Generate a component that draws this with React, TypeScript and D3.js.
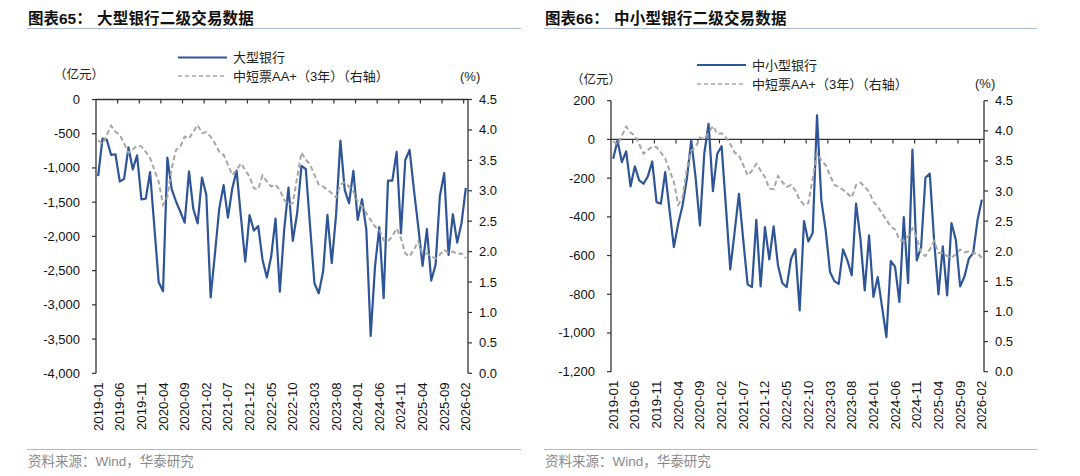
import React from "react";
import * as d3 from "d3";

// ---------- DATA ----------
const months: string[] = d3
  .timeMonth.range(new Date(2019, 0, 1), new Date(2026, 2, 1))
  .map((d) => d3.timeFormat("%Y-%m")(d));

const largeBanks: number[] = [
  -1120, -570, -590, -810, -800, -1200, -1160, -700, -1020, -815,
  -1460, -1450, -1060, -1870, -2670, -2800, -850, -1310, -1490, -1640,
  -1800, -1050, -1600, -1810, -1140, -1390, -2890, -2250, -1590, -1250,
  -1725, -1300, -1040, -1710, -2370, -1690, -1915, -1850, -2340, -2600,
  -2295, -1740, -2806, -1905, -1288, -2066, -1662, -971, -1015, -1857,
  -2684, -2830, -2514, -1686, -2392, -1686, -601, -1321, -1516, -1044,
  -1759, -1457, -1905, -3453, -2441, -1866, -2902, -1185, -1185, -766,
  -1953, -883, -737, -1321, -1857, -2431, -1895, -2645, -2416, -1409,
  -1075, -2270, -1676, -2090, -1808, -1292,
];

const smallBanks: number[] = [
  -100, -5, -117, -62, -243, -139, -212, -229, -191, -114,
  -324, -332, -169, -367, -556, -436, -341, -203, -5, -195,
  -444, -74, 81, -267, -74, -35, -350, -671, -479, -281,
  -522, -749, -763, -415, -759, -453, -620, -449, -651, -742,
  -763, -618, -567, -883, -422, -527, -484, 124, -315, -470,
  -685, -732, -746, -568, -625, -702, -332, -513, -780, -496,
  -814, -711, -866, -1021, -628, -659, -840, -401, -742, -53,
  -625, -556, -198, -177, -522, -801, -553, -806, -432, -518,
  -759, -708, -616, -587, -418, -311,
];

const aaPlusYield: number[] = [
  3.83, 3.77, 3.92, 4.07, 3.97, 3.92, 3.78, 3.62, 3.68, 3.74,
  3.73, 3.64, 3.54, 3.34, 3.15, 2.77, 2.9, 3.37, 3.67, 3.73,
  3.89, 3.86, 3.97, 4.08, 3.95, 3.96, 3.89, 3.78, 3.64, 3.59,
  3.43, 3.26, 3.34, 3.45, 3.34, 3.23, 3.04, 3.03, 3.25, 3.15,
  3.07, 3.1, 3.01, 2.85, 2.77, 2.8, 3.21, 3.63, 3.51, 3.43,
  3.26, 3.1, 3.07, 3.02, 2.96, 2.89, 3.1, 3.14, 3.07, 2.99,
  2.82, 2.74, 2.63, 2.52, 2.41, 2.36, 2.19, 2.17, 2.25, 2.38,
  2.22, 1.97, 1.92, 2.03, 2.17, 1.97, 1.97, 1.92, 1.89, 1.95,
  2.03, 1.98, 2.0, 1.96, 1.97, 1.89,
];

const leftTicks1: number[] = [0, -500, -1000, -1500, -2000, -2500, -3000, -3500, -4000];
const leftTicks2: number[] = [200, 0, -200, -400, -600, -800, -1000, -1200];
const rightTicks: number[] = [4.5, 4.0, 3.5, 3.0, 2.5, 2.0, 1.5, 1.0, 0.5, 0.0];

const BLUE = "#2E5597";
const GREY = "#A6A6A6";
const AXIS = "#333333";
const RULE = "#A9BBD9";
const FONT = "'Liberation Sans', Arial, 'Noto Sans CJK SC', sans-serif";

const fmtLeft = d3
  .formatLocale({ decimal: ".", thousands: ",", grouping: [3], currency: ["", ""], minus: "-" })
  .format(",");
const fmtRight = d3.format(".1f");

type PanelProps = {
  left: number;
  right: number;
  x0: number;
  x1: number;
  yTop: number;
  yBot: number;
  leftDomain: [number, number];
  leftTicks: number[];
  series: number[];
  titleNo: string;
  titleText: string;
  titleTextX: number;
  legendName: string;
  legendX: number;
  legendY1: number;
  legendY2: number;
  unitLX: number;
  unitLY: number;
  unitRX: number;
  unitRY: number;
};

function Panel(p: PanelProps) {
  const x = d3.scaleBand<number>().domain(d3.range(months.length)).range([p.x0, p.x1]).paddingInner(0).paddingOuter(0);
  const bw = x.bandwidth();
  const cx = (i: number) => (x(i) as number) + bw / 2;
  const yL = d3.scaleLinear().domain(p.leftDomain).range([p.yBot, p.yTop]);
  const yR = d3.scaleLinear().domain([0, 4.5]).range([p.yBot, p.yTop]);
  const lineL = d3.line<number>().x((_, i) => cx(i)).y((d) => yL(d));
  const lineR = d3.line<number>().x((_, i) => cx(i)).y((d) => yR(d));
  const y0 = yL(0);
  const tickIdx = d3.range(0, months.length, 5);
  const boundaryTicks = d3.range(0, months.length + 1, 5).filter((k) => k > 0 && k < months.length);

  return (
    <g>
      {/* title */}
      <text x={p.left} y={18} dominantBaseline="central" fontFamily={FONT} fontWeight="bold" fontSize={15.5} fill="#111">
        {p.titleNo}
      </text>
      <text x={p.titleTextX} y={18} dominantBaseline="central" fontFamily={FONT} fontWeight="bold" fontSize={15.5} fill="#111" letterSpacing={0.2}>
        {p.titleText}
      </text>
      <line x1={p.left - 1} x2={p.right} y1={28.5} y2={28.5} stroke={RULE} strokeWidth={1.2} />

      {/* legend */}
      <line x1={p.legendX} x2={p.legendX + 49} y1={p.legendY1} y2={p.legendY1} stroke={BLUE} strokeWidth={2.2} />
      <text x={p.legendX + 55} y={p.legendY1} dominantBaseline="central" fontFamily={FONT} fontSize={13} fill="#222">
        {p.legendName}
      </text>
      <line x1={p.legendX} x2={p.legendX + 49} y1={p.legendY2} y2={p.legendY2} stroke={GREY} strokeWidth={1.6} strokeDasharray="4 3" />
      <text x={p.legendX + 55} y={p.legendY2} dominantBaseline="central" fontFamily={FONT} fontSize={13} fill="#222">
        中短票AA+（3年）（右轴）
      </text>

      {/* units */}
      <text x={p.unitLX} y={p.unitLY} dominantBaseline="central" fontFamily={FONT} fontSize={12.5} fill="#222">
        （亿元）
      </text>
      <text x={p.unitRX} y={p.unitRY} dominantBaseline="central" fontFamily={FONT} fontSize={13} fill="#222">
        (%)
      </text>

      {/* left axis */}
      <line x1={p.x0} x2={p.x0} y1={p.yTop} y2={p.yBot} stroke={AXIS} strokeWidth={1.3} />
      {p.leftTicks.map((t) => (
        <g key={"l" + t}>
          <line x1={p.x0 - 4} x2={p.x0} y1={yL(t)} y2={yL(t)} stroke={AXIS} strokeWidth={1.2} />
          <text x={p.x0 - 16} y={yL(t)} textAnchor="end" dominantBaseline="central" fontFamily={FONT} fontSize={13} fill="#111">
            {fmtLeft(t)}
          </text>
        </g>
      ))}

      {/* right axis */}
      <line x1={p.x1} x2={p.x1} y1={p.yTop} y2={p.yBot} stroke={AXIS} strokeWidth={1.3} />
      {rightTicks.map((t) => (
        <g key={"r" + t}>
          <line x1={p.x1} x2={p.x1 + 4} y1={yR(t)} y2={yR(t)} stroke={AXIS} strokeWidth={1.2} />
          <text x={p.x1 + 11} y={yR(t)} dominantBaseline="central" fontFamily={FONT} fontSize={13} fill="#111">
            {fmtRight(t)}
          </text>
        </g>
      ))}

      {/* category axis at zero */}
      <line x1={p.x0} x2={p.x1} y1={y0} y2={y0} stroke={AXIS} strokeWidth={1.3} />
      {boundaryTicks.map((k) => (
        <line key={"b" + k} x1={p.x0 + k * bw} x2={p.x0 + k * bw} y1={y0} y2={y0 + 4} stroke={AXIS} strokeWidth={1.2} />
      ))}
      {tickIdx.map((i) => (
        <text
          key={"x" + i}
          transform={`translate(${cx(i)},${p.yBot + 9}) rotate(-90)`}
          textAnchor="end"
          dominantBaseline="central"
          fontFamily={FONT}
          fontSize={13.3}
          fill="#111"
        >
          {months[i]}
        </text>
      ))}

      {/* series */}
      <path d={lineL(p.series) as string} fill="none" stroke={BLUE} strokeWidth={2.2} strokeLinejoin="round" />
      <path d={lineR(aaPlusYield) as string} fill="none" stroke={GREY} strokeWidth={2} strokeDasharray="5 3" />

      {/* source */}
      <line x1={p.left - 1} x2={p.right} y1={449.5} y2={449.5} stroke={RULE} strokeWidth={1.2} />
      <text x={p.left} y={461} dominantBaseline="central" fontFamily={FONT} fontSize={13.5} fill="#8a8a8a">
        资料来源：Wind，华泰研究
      </text>
    </g>
  );
}

export default function App() {
  return (
    <div style={{ position: "absolute", left: 0, top: 0, width: 1080, height: 476, background: "#fff" }}>
      <svg width={1080} height={476} viewBox="0 0 1080 476" style={{ display: "block" }}>
        <rect width={1080} height={476} fill="#fff" />
        <Panel
          left={28}
          right={521}
          x0={96}
          x1={468}
          yTop={99.5}
          yBot={373.3}
          leftDomain={[-4000, 0]}
          leftTicks={leftTicks1}
          series={largeBanks}
          titleNo="图表65："
          titleText="大型银行二级交易数据"
          titleTextX={97}
          legendName="大型银行"
          legendX={178}
          legendY1={57.5}
          legendY2={76}
          unitLX={54}
          unitLY={74.5}
          unitRX={460}
          unitRY={76}
        />
        <Panel
          left={545}
          right={1037}
          x0={611}
          x1={984}
          yTop={100.7}
          yBot={371.7}
          leftDomain={[-1200, 200]}
          leftTicks={leftTicks2}
          series={smallBanks}
          titleNo="图表66："
          titleText="中小型银行二级交易数据"
          titleTextX={614}
          legendName="中小型银行"
          legendX={697}
          legendY1={65}
          legendY2={84}
          unitLX={571}
          unitLY={80}
          unitRX={975}
          unitRY={83.5}
        />
      </svg>
    </div>
  );
}
